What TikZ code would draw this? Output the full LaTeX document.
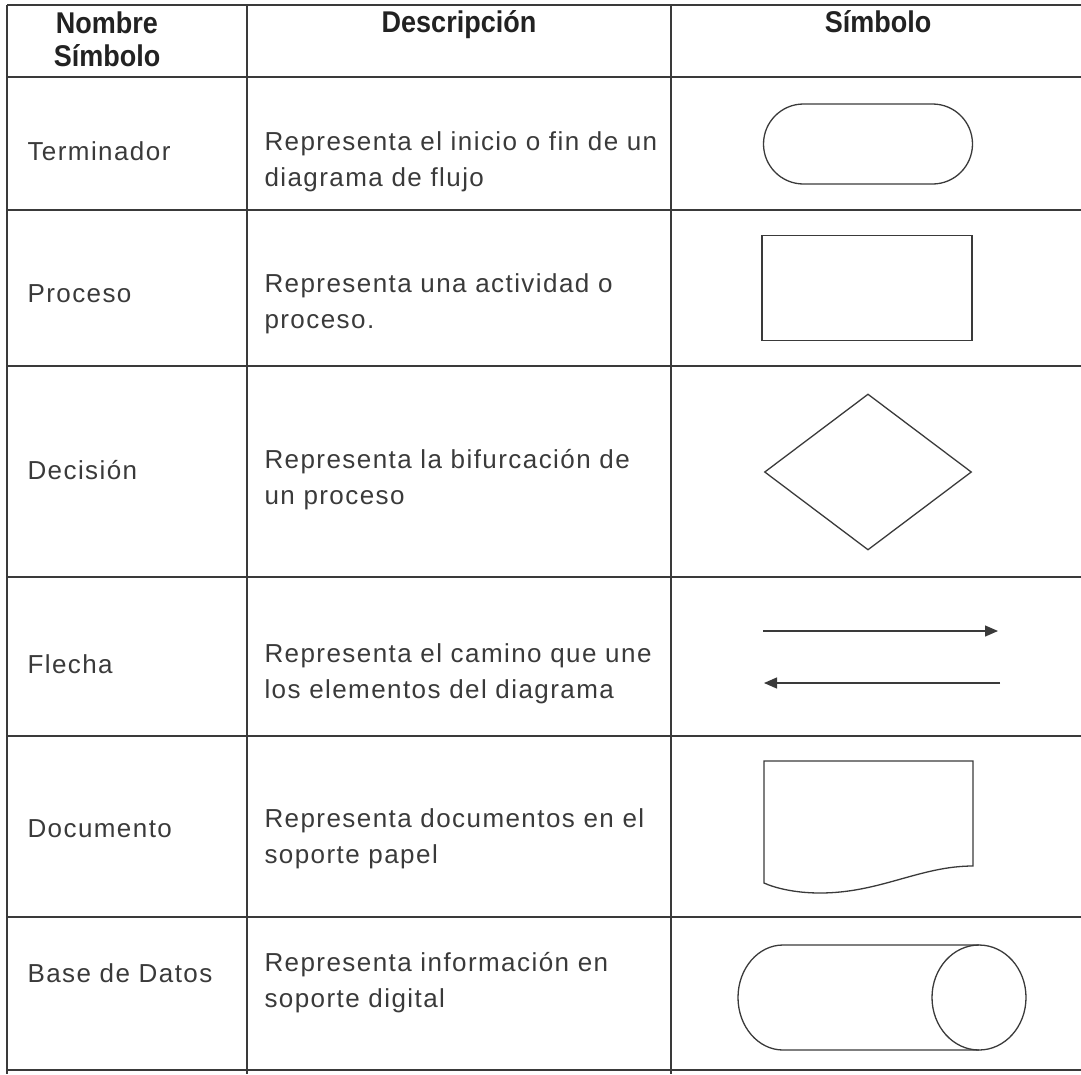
\documentclass[tikz,border=0pt]{standalone}
\usepackage{fontspec}
\setmainfont{Liberation Sans}[LetterSpace=5.5]
\newfontfamily\headfont{Liberation Sans}[FakeStretch=0.9]
\usetikzlibrary{shapes.geometric,shapes.misc,arrows.meta}
\definecolor{ink}{HTML}{3A3A3A}
\definecolor{hink}{HTML}{222222}

\begin{document}
\begin{tikzpicture}[x=1pt,y=-1pt,
  tline/.style={draw=ink,line width=1.5pt},
  hdr/.style={font=\headfont\bfseries\fontsize{30}{33}\selectfont,align=center,text=hink},
  lbl/.style={anchor=west,font=\fontsize{26}{36}\selectfont,text=ink},
  dsc/.style={anchor=west,align=left,font=\fontsize{26}{36}\selectfont,text=ink},
  sym/.style={draw=ink,line width=1.3pt,inner sep=0pt}]
  \useasboundingbox (0,0) rectangle (1081,1074);

  % table lines
  \foreach \y in {5,77,210,366,577,736,917,1070}
    \draw[tline] (7,\y) -- (1081,\y);
  \foreach \x in {7,247,671}
    \draw[tline] (\x,5) -- (\x,1074);

  % header
  \node[hdr] (hname) at (107,39) {Nombre\\Símbolo};
  \node[hdr,anchor=base] (hdesc) at (459,32) {Descripción};
  \node[hdr,anchor=base] (hsym) at (878,32) {Símbolo};

  % names
  \node[lbl] (nterm) at (24,151) {Terminador};
  \node[lbl] (nproc) at (24,294) {Proceso};
  \node[lbl] (ndec) at (24,470) {Decisión};
  \node[lbl] (nflecha) at (24,664) {Flecha};
  \node[lbl] (ndoc) at (24,829) {Documento};
  \node[lbl] (nbase) at (24,973) {Base de Datos};

  % descriptions
  \node[dsc] (dterm) at (261,162) {Representa el inicio o fin de un\\diagrama de flujo};
  \node[dsc] (dproc) at (261,304) {Representa una actividad o\\proceso.};
  \node[dsc] (ddec) at (261,480) {Representa la bifurcación de\\un proceso};
  \node[dsc] (dflecha) at (261,674) {Representa el camino que une\\los elementos del diagrama};
  \node[dsc] (ddoc) at (261,839) {Representa documentos en el\\soporte papel};
  \node[dsc] (dbase) at (261,983) {Representa información en\\soporte digital};

  % symbols
  \node[sym,rounded rectangle,minimum width=209pt,minimum height=80pt] (sterm) at (868,144) {};
  \node[sym,rectangle,minimum width=210pt,minimum height=105pt] (sproc) at (867,288) {};
  \node[sym,diamond,minimum width=207pt,minimum height=156pt] (sdec) at (868,472) {};

  \coordinate (fa) at (763,631);
  \coordinate (fb) at (998,631);
  \coordinate (fc) at (1000,683);
  \coordinate (fd) at (764,683);
  \draw[sym,-{Triangle[length=13pt,width=11pt]}] (fa) -- (fb);
  \draw[sym,-{Triangle[length=13pt,width=11pt]}] (fc) -- (fd);

  \draw[sym] (764,761) -- (973,761) -- (973,866)
    .. controls (920,866) and (880,893) .. (820,893)
    .. controls (795,893) and (775,888) .. (764,883) -- cycle;

  \draw[sym] (979,945) -- (783,945)
    arc[start angle=-90, end angle=-270, x radius=45, y radius=52.5]
    -- (979,1050);
  \draw[sym] (979,997.5) ellipse[x radius=47, y radius=52.5];
\end{tikzpicture}
\end{document}
